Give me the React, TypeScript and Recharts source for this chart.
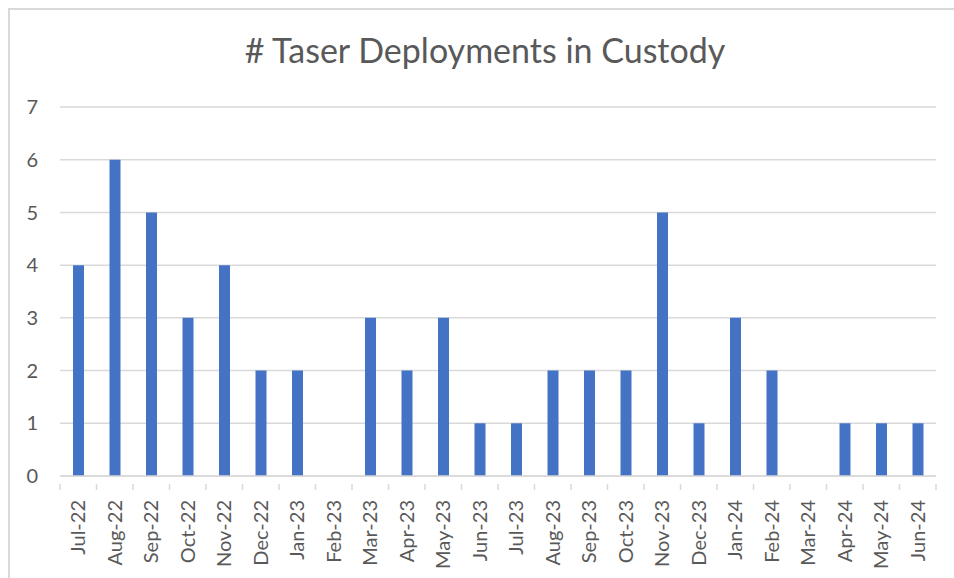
import { Bar, BarChart, CartesianGrid, XAxis, YAxis } from "recharts";

const months = [
  "Jul-22", "Aug-22", "Sep-22", "Oct-22", "Nov-22", "Dec-22",
  "Jan-23", "Feb-23", "Mar-23", "Apr-23", "May-23", "Jun-23",
  "Jul-23", "Aug-23", "Sep-23", "Oct-23", "Nov-23", "Dec-23",
  "Jan-24", "Feb-24", "Mar-24", "Apr-24", "May-24", "Jun-24",
];
const deployments = [4, 6, 5, 3, 4, 2, 2, 0, 3, 2, 3, 1, 1, 2, 2, 2, 5, 1, 3, 2, 0, 1, 1, 1];
const yTicks = [0, 1, 2, 3, 4, 5, 6, 7];

const WIDTH = 954;
const HEIGHT = 578;
const MARGIN = { top: 107, right: 18, left: 0, bottom: 0 };
const Y_WIDTH = 60;
const BAND = (WIDTH - MARGIN.right - MARGIN.left - Y_WIDTH) / months.length;

const GRID = "#d9d9d9";
const TEXT = "#595959";
const FONT = "Lato, 'Open Sans', sans-serif";

const data = months.map((month, i) => ({ month, value: deployments[i] }));

function MonthTick(props: any) {
  const { x, y, index, payload } = props;
  const last = index === months.length - 1;
  return (
    <g>
      <line x1={x - BAND / 2} x2={x - BAND / 2} y1={y} y2={y + 6} stroke={GRID} strokeWidth={1.5} />
      {last && (
        <line x1={x + BAND / 2} x2={x + BAND / 2} y1={y} y2={y + 6} stroke={GRID} strokeWidth={1.5} />
      )}
      <text
        transform={`translate(${x},${y + 16}) rotate(-90)`}
        textAnchor="end"
        dy="0.35em"
        fill={TEXT}
        fontSize={20}
        fontFamily={FONT}
      >
        {payload.value}
      </text>
    </g>
  );
}

export default function App() {
  return (
    <div style={{ position: "absolute", left: 0, top: 0, width: WIDTH, height: HEIGHT, overflow: "hidden", background: "#fff" }}>
      <div
        style={{
          position: "absolute",
          left: 8,
          top: 8,
          width: WIDTH - 8,
          height: HEIGHT - 8,
          borderTop: `2px solid ${GRID}`,
          borderLeft: `2px solid ${GRID}`,
          boxSizing: "border-box",
        }}
      />
      <div
        style={{
          position: "absolute",
          left: 0,
          top: 29,
          width: 970,
          textAlign: "center",
          fontFamily: FONT,
          fontSize: 34,
          color: TEXT,
          whiteSpace: "nowrap",
        }}
      >
        # Taser Deployments in Custody
      </div>
      <div style={{ position: "absolute", left: 0, top: 0 }}>
        <BarChart width={WIDTH} height={HEIGHT} data={data} margin={MARGIN}>
          <CartesianGrid stroke={GRID} strokeWidth={1.5} vertical={false} />
          <XAxis
            dataKey="month"
            interval={0}
            height={102}
            axisLine={{ stroke: GRID, strokeWidth: 1.5 }}
            tickLine={false}
            tick={<MonthTick />}
          />
          <YAxis
            domain={[0, 7]}
            ticks={yTicks}
            width={Y_WIDTH}
            axisLine={false}
            tickLine={false}
            tickSize={0}
            tickMargin={22}
            tick={{ fill: TEXT, fontSize: 20, fontFamily: FONT }}
          />
          <Bar dataKey="value" fill="#4472c4" barSize={11} isAnimationActive={false} />
        </BarChart>
      </div>
    </div>
  );
}
